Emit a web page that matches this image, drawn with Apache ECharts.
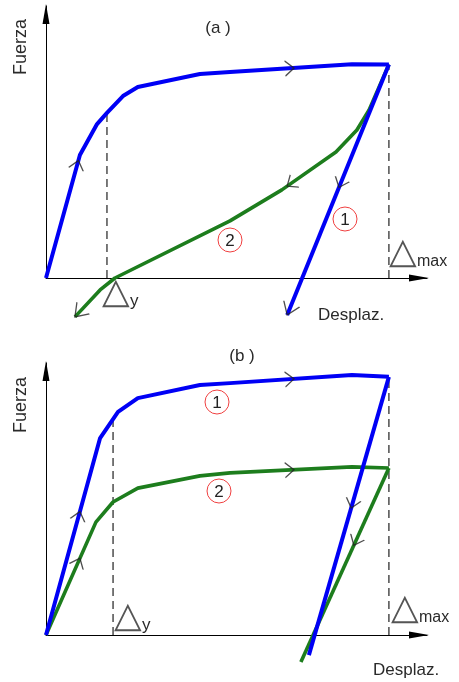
<!DOCTYPE html>
<html>
<head>
<meta charset="utf-8">
<script src="https://cdn.jsdelivr.net/npm/echarts@6/dist/echarts.min.js"></script>
<style>
  html, body { margin: 0; padding: 0; background: #fff; }
  #chart { width: 459px; height: 682px; }
</style>
</head>
<body>
<div id="chart"></div>
<script>
// ---- Panel (a): elastic-plastic loading, two unloading paths ----
const dispLoadA   = [0, 8.9, 13.4, 16.0, 20.2, 24.1, 40.4, 48.3, 80.3, 90];
const forceLoadA  = [0, 45.2, 56.6, 60.7, 66.9, 70.2, 75.0, 75.7, 78.6, 78.5];
const dispUnload1A  = [90, 63.3];
const forceUnload1A = [78.5, -13.6];
const dispUnload2A  = [90, 84.8, 81.6, 76.1, 61.9, 48.3, 18.1, 14.2, 7.6];
const forceUnload2A = [78.5, 61.8, 54.4, 46.3, 32.4, 21.0, 0, -4.4, -14.3];
const yieldA = [16.0, 60.7];   // [Δy, force at Δy]
const maxA   = [90, 78.5];     // [Δmax, force at Δmax]

// ---- Panel (b): two loading curves with parallel unloading ----
const dispLoad1B  = [0, 14.2, 18.9, 24.1, 40.4, 48.3, 80.3, 90];
const forceLoad1B = [0, 72.4, 82.0, 87.1, 91.9, 92.6, 95.6, 94.9];
const dispUnload1B  = [90, 69.0];
const forceUnload1B = [94.9, -7.4];
const dispLoad2B  = [0, 13.1, 17.6, 24.1, 40.4, 48.3, 80.3, 90];
const forceLoad2B = [0, 41.5, 48.9, 54.0, 58.5, 59.6, 61.8, 61.4];
const dispUnload2B  = [90, 66.9];
const forceUnload2B = [61.4, -9.9];
const yieldB = [17.6, 79.0];
const maxB   = [90, 94.9];

// Direction marks: [curve key, displacement where the mark sits, end-arrow flag]
const arrowMarks = [
  ['loadA', 8.5, false], ['loadA', 65.1, false], ['unload1A', 76.9, false],
  ['unload2A', 63.3, false], ['unload1A', 63.3, true], ['unload2A', 7.6, true],
  ['load1B', 8.9, false], ['load2B', 8.9, false], ['load1B', 65.1, false],
  ['load2B', 65.1, false], ['unload1B', 80.1, false], ['unload2B', 80.8, false]
];

const BLUE = '#0000f5';
const GREEN = '#1d7d1d';
const FONT = 'Liberation Sans, Arial, sans-serif';

const curves = {
  loadA:    { g: 0, x: dispLoadA,    y: forceLoadA,    c: BLUE },
  unload1A: { g: 0, x: dispUnload1A, y: forceUnload1A, c: BLUE },
  unload2A: { g: 0, x: dispUnload2A, y: forceUnload2A, c: GREEN },
  load1B:   { g: 1, x: dispLoad1B,   y: forceLoad1B,   c: BLUE },
  unload1B: { g: 1, x: dispUnload1B, y: forceUnload1B, c: BLUE },
  load2B:   { g: 1, x: dispLoad2B,   y: forceLoad2B,   c: GREEN },
  unload2B: { g: 1, x: dispUnload2B, y: forceUnload2B, c: GREEN }
};

function zip(xs, ys) { return xs.map((x, i) => [x, ys[i]]); }

function makeAxis(g) {
  return {
    type: 'value', gridIndex: g, min: 0, max: 100,
    axisLine: {
      show: true, onZero: false,
      symbol: ['none', 'triangle'], symbolSize: [7, 20], symbolOffset: [0, -8],
      lineStyle: { color: '#000', width: 1 }
    },
    axisTick: { show: false }, axisLabel: { show: false }, splitLine: { show: false }
  };
}

const series = [];
Object.keys(curves).forEach(k => {
  const cv = curves[k];
  series.push({
    id: k, type: 'line', xAxisIndex: cv.g, yAxisIndex: cv.g,
    data: zip(cv.x, cv.y), showSymbol: false, clip: false, silent: true,
    lineStyle: { color: cv.c, width: cv.c === BLUE ? 4 : 3.6, join: 'round', cap: 'butt' },
    z: cv.c === BLUE ? 3 : 2
  });
});

function dashed(g, pt) {
  return {
    type: 'line', xAxisIndex: g, yAxisIndex: g, showSymbol: false, clip: false, silent: true,
    data: [[pt[0], 0], [pt[0], pt[1]]],
    lineStyle: { color: '#404040', width: 1.4, type: [8, 5] }, z: 1
  };
}
series.push(dashed(0, yieldA), dashed(0, maxA), dashed(1, yieldB), dashed(1, maxB));

function circled(cx, cy, num) {
  return {
    type: 'group', x: cx, y: cy, children: [
      { type: 'circle', shape: { cx: 0, cy: 0, r: 12 },
        style: { fill: '#fff', stroke: '#f04040', lineWidth: 1 } },
      { type: 'text', x: 0, y: 1, style: { text: num, font: '17px ' + FONT, fill: '#222',
        textAlign: 'center', textVerticalAlign: 'middle' } }
    ]
  };
}
function txt(x, y, s, size, align, extra) {
  return Object.assign({ type: 'text', x: x, y: y,
    style: { text: s, font: size + 'px ' + FONT, fill: '#2a2a2a',
      textAlign: align || 'left', textVerticalAlign: 'middle' } }, extra || {});
}
function delta(x, y, sub, subSize) {
  return {
    type: 'group', x: x, y: y, children: [
      { type: 'text', x: 0, y: 0, style: { text: '△', font: '36px DejaVu Sans', fill: '#555',
        textAlign: 'left', textVerticalAlign: 'bottom' } },
      { type: 'text', x: 28, y: -2, style: { text: sub, font: subSize + 'px ' + FONT, fill: '#2a2a2a',
        textAlign: 'left', textVerticalAlign: 'bottom' } }
    ]
  };
}

const graphic = [
  txt(21, 47, 'Fuerza', 18, 'center', { rotation: Math.PI / 2 }),
  txt(218, 28, '(a )', 17, 'center'),
  txt(318, 315, 'Desplaz.', 17, 'left'),
  delta(102, 312, 'y', 17),
  delta(389, 272, 'max', 16),
  circled(345, 219, '1'),
  circled(230, 240, '2'),
  txt(21, 405, 'Fuerza', 18, 'center', { rotation: Math.PI / 2 }),
  txt(242, 356, '(b )', 17, 'center'),
  txt(373, 670, 'Desplaz.', 17, 'left'),
  delta(114, 636, 'y', 17),
  delta(391, 628, 'max', 16),
  circled(217, 402, '1'),
  circled(219, 491, '2')
];

const chart = echarts.init(document.getElementById('chart'), null, { renderer: 'canvas' });
chart.setOption({
  animation: false,
  backgroundColor: '#fff',
  grid: [
    { left: 46, top: 6, width: 381, height: 272 },
    { left: 46, top: 363, width: 381, height: 272 }
  ],
  xAxis: [makeAxis(0), makeAxis(1)],
  yAxis: [makeAxis(0), makeAxis(1)],
  series: series,
  graphic: graphic
});

// Place open chevrons on the curves, oriented along the path direction.
function pointAt(cv, xv) {
  for (let i = 0; i < cv.x.length - 1; i++) {
    const a = cv.x[i], b = cv.x[i + 1];
    if ((xv - a) * (xv - b) <= 0 && a !== b) {
      const t = (xv - a) / (b - a);
      return { i: i, p: [xv, cv.y[i] + t * (cv.y[i + 1] - cv.y[i])] };
    }
  }
  const n = cv.x.length - 1;
  return { i: n - 1, p: [cv.x[n], cv.y[n]] };
}

const markData = [[], []];
arrowMarks.forEach(m => {
  const cv = curves[m[0]];
  const hit = pointAt(cv, m[1]);
  const tip = m[2] ? [cv.x[cv.x.length - 1], cv.y[cv.y.length - 1]] : hit.p;
  const seg = m[2] ? cv.x.length - 2 : hit.i;
  const p0 = chart.convertToPixel({ gridIndex: cv.g }, [cv.x[seg], cv.y[seg]]);
  const p1 = chart.convertToPixel({ gridIndex: cv.g }, [cv.x[seg + 1], cv.y[seg + 1]]);
  const tp = chart.convertToPixel({ gridIndex: cv.g }, tip);
  const dx = p1[0] - p0[0], dy = p1[1] - p0[1];
  const len = Math.hypot(dx, dy);
  const ux = dx / len, uy = dy / len;
  const L = m[2] ? 12 : 9;
  const centre = [tp[0] - ux * L / 2, tp[1] - uy * L / 2];
  const d = chart.convertFromPixel({ gridIndex: cv.g }, centre);
  markData[cv.g].push({
    value: d,
    symbolSize: m[2] ? [12, 17] : [9, 15],
    symbolRotate: Math.atan2(-dy, dx) * 180 / Math.PI
  });
});

[0, 1].forEach(g => {
  series.push({
    type: 'scatter', xAxisIndex: g, yAxisIndex: g, clip: false, silent: true,
    symbol: 'path://M0,0L10,5L0,10', data: markData[g],
    itemStyle: { color: 'rgba(0,0,0,0)', borderColor: '#222', borderWidth: 1.2 }, z: 5
  });
});
chart.setOption({ series: series });
</script>
</body>
</html>
